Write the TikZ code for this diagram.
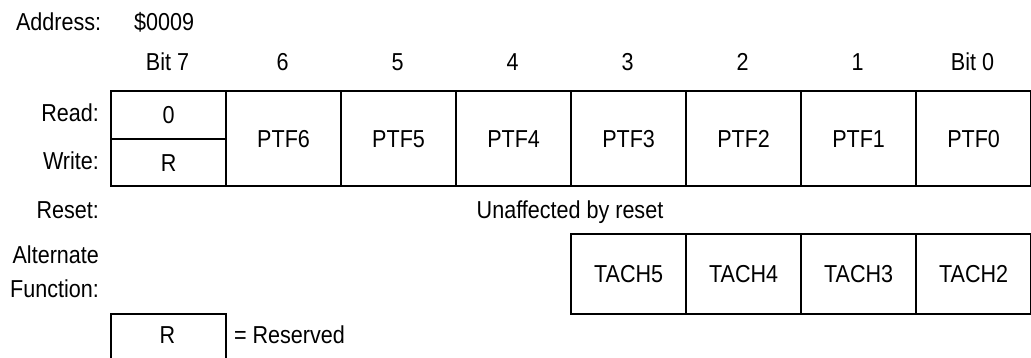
\documentclass[tikz,border=0pt]{standalone}
\usepackage{fontspec}
\setmainfont{Liberation Sans}[FakeStretch=0.88]
\usetikzlibrary{positioning}
\tikzset{
  every picture/.style={line width=2.2pt, x=1pt, y=-1pt},
  every node/.style={font=\fontsize{24.5}{28}\selectfont, inner sep=0pt, text height=17.5pt, text depth=0pt},
  cell/.style={draw, minimum width=115pt, minimum height=#1, anchor=north west},
  cell/.default=95pt,
  lbl/.style={anchor=east, align=right},
}
\begin{document}
\begin{tikzpicture}
  \useasboundingbox (0,0) rectangle (1031,358);
  % header
  \node[anchor=west] (addr) at (15,22) {Address:};
  \node[anchor=west] (addrval) at (133,22) {\$0009};
  \foreach \i/\t in {0/Bit 7,1/6,2/5,3/4,4/3,5/2,6/1,7/Bit 0}
    \node (bit\i) at (167.5+115*\i,62) {\t};
  % register
  \node[cell=48pt] (rd7) at (110,90) {0};
  \node[cell=47pt] (wr7) at (110,138) {R};
  \foreach \i/\t in {1/PTF6,2/PTF5,3/PTF4,4/PTF3,5/PTF2,6/PTF1,7/PTF0}
    \node[cell] (ptf\i) at (110+115*\i,90) {\t};
  \node[lbl] (read) at (100,113) {Read:};
  \node[lbl] (write) at (100,161) {Write:};
  \node[lbl] (reset) at (100,210) {Reset:};
  \node (resetval) at (570,210) {Unaffected by reset};
  % alternate function
  \node[lbl] (alt) at (100,255) {Alternate};
  \node[lbl] (func) at (100,289) {Function:};
  \foreach \i/\t in {4/TACH5,5/TACH4,6/TACH3,7/TACH2}
    \node[cell=80pt] (tach\i) at (110+115*\i,233) {\t};
  % legend
  \node[cell=52pt] (rsv) at (110,313) {};
  \node (rsvR) at (167.5,335) {R};
  \node[anchor=west] (rsvtxt) at (233,335) {= Reserved};
\end{tikzpicture}
\end{document}
